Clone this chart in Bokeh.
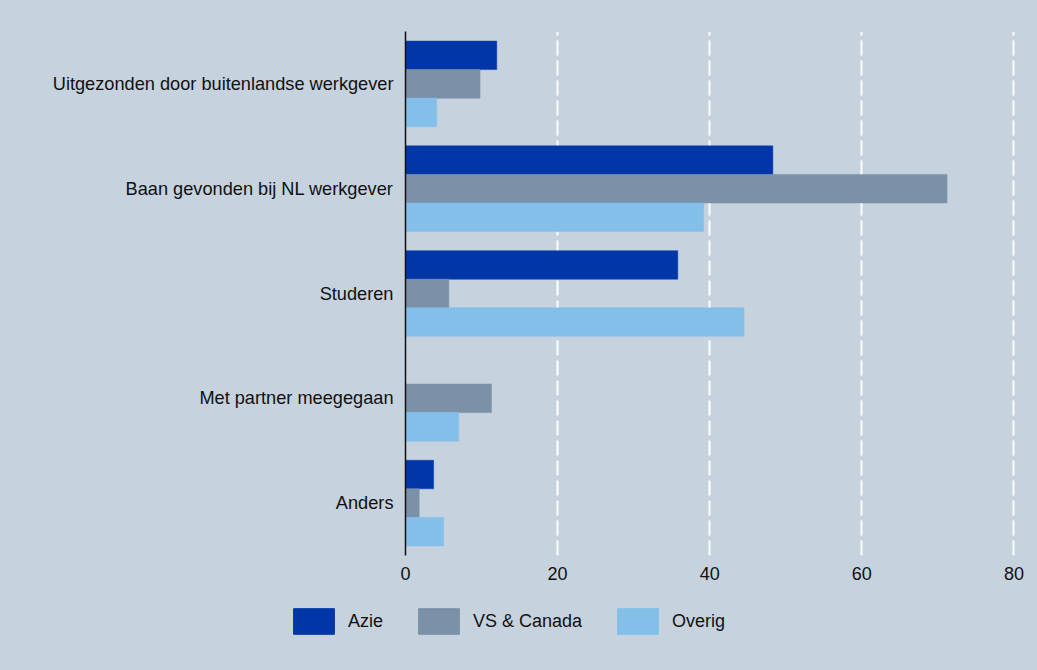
from bokeh.plotting import figure
from bokeh.models import ColumnDataSource, FactorRange, Range1d, Legend, LegendItem, FixedTicker
from bokeh.layouts import column
from bokeh.transform import dodge
from bokeh.embed import file_html
from bokeh.resources import INLINE

categories = ["Uitgezonden door buitenlandse werkgever", "Baan gevonden bij NL werkgever",
              "Studeren", "Met partner meegegaan", "Anders"]
azie = [12.0, 48.3, 35.8, 0.0, 3.7]
vs_canada = [9.8, 71.2, 5.7, 11.3, 1.8]
overig = [4.1, 39.2, 44.5, 7.0, 5.0]
series_names = ["Azie", "VS & Canada", "Overig"]
x_ticks = [0, 20, 40, 60, 80]

BG = "#C6D2DE"
FONT = "Liberation Sans"
COLORS = ["#0036A8", "#7B91A8", "#83BFE9"]

source = ColumnDataSource(dict(cat=categories, azie=azie, vs=vs_canada, overig=overig))

p = figure(width=1037, height=595, output_backend="svg", toolbar_location=None,
           y_range=FactorRange(factors=list(reversed(categories))),
           x_range=Range1d(0, 80.2),
           min_border_left=405, min_border_right=22, min_border_top=31, min_border_bottom=40)
p.background_fill_color = None
p.border_fill_color = None
p.outline_line_color = None
p.frame_align = False
p.styles = {"background-color": BG}

bh = 0.2725
p.hbar(y=dodge("cat", bh, range=p.y_range), right="azie", left=0, height=bh,
       source=source, fill_color=COLORS[0], line_color="#0A3CB0", line_width=0.5)
p.hbar(y=dodge("cat", 0, range=p.y_range), right="vs", left=0, height=bh,
       source=source, fill_color=COLORS[1], line_color=COLORS[1], line_width=0.5)
p.hbar(y=dodge("cat", -bh, range=p.y_range), right="overig", left=0, height=bh,
       source=source, fill_color=COLORS[2], line_color=COLORS[2], line_width=0.5)

p.ygrid.grid_line_color = None
p.xgrid.grid_line_color = "white"
p.xgrid.grid_line_width = 2
p.xgrid.grid_line_dash = "15 5"
p.xgrid.ticker = FixedTicker(ticks=x_ticks[1:])

p.xaxis.ticker = FixedTicker(ticks=x_ticks)
p.xaxis.axis_line_color = None
p.xaxis.major_tick_line_color = None
p.xaxis.minor_tick_line_color = None
p.xaxis.major_label_standoff = 5
p.xaxis.major_label_text_font = FONT
p.xaxis.major_label_text_font_size = "18px"
p.xaxis.major_label_text_color = "#111111"

p.yaxis.axis_line_color = "#111111"
p.yaxis.axis_line_width = 1.5
p.yaxis.major_tick_line_color = None
p.yaxis.minor_tick_line_color = None
p.yaxis.major_label_standoff = 6
p.yaxis.major_label_text_font = FONT
p.yaxis.major_label_text_font_size = "18.2px"
p.yaxis.major_label_text_color = "#111111"

# legend strip below the chart
lg = figure(width=1037, height=75, output_backend="svg", toolbar_location=None,
            x_range=Range1d(0, 1), y_range=Range1d(0, 1),
            x_axis_type=None, y_axis_type=None,
            min_border_left=0, min_border_right=0, min_border_top=0, min_border_bottom=0)
lg.background_fill_color = None
lg.border_fill_color = None
lg.outline_line_color = None
lg.grid.grid_line_color = None
lg.frame_align = False
lg.styles = {"background-color": BG}
items = []
for name, col in zip(series_names, COLORS):
    dummy = ColumnDataSource(dict(x=[-10], y=[-10]))
    r = lg.rect(x="x", y="y", width=0.1, height=0.1, source=dummy,
                fill_color=col, line_color=col)
    items.append(LegendItem(label=name, renderers=[r]))
legend = Legend(items=items, orientation="horizontal", location=(288, 33),
                glyph_width=51, glyph_height=32, label_standoff=9, spacing=30,
                padding=0, margin=0, border_line_color=None,
                background_fill_alpha=0,
                label_text_font=FONT, label_text_font_size="18px", label_text_color="#111111")
lg.add_layout(legend, "center")

layout = column(p, lg, spacing=0, styles={"background-color": BG})
open("out.html", "w").write(file_html(layout, INLINE))
